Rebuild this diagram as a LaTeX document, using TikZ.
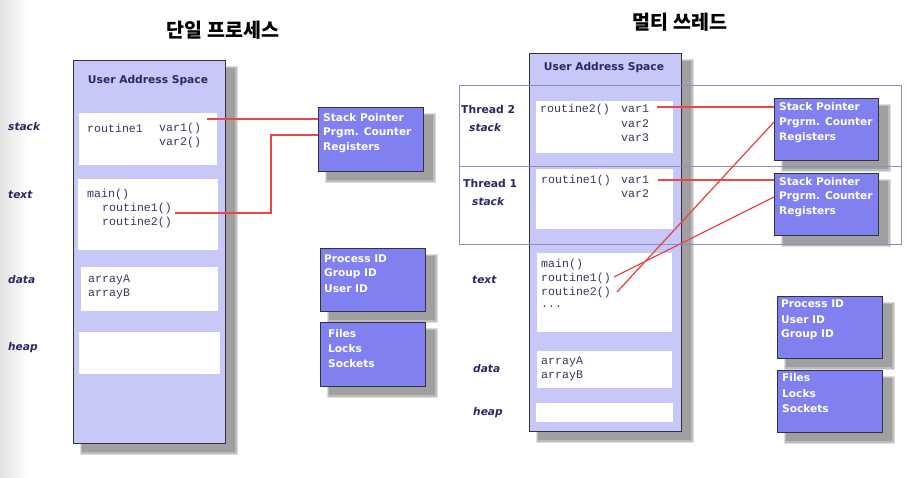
\documentclass[tikz,border=0pt]{standalone}
\usepackage{fontspec}
\setmainfont{DejaVu Sans}
\newfontfamily\krfont{Noto Sans CJK KR}
\newfontfamily\monof{Liberation Mono}
\definecolor{bigfill}{RGB}{200,200,248}
\definecolor{bluefill}{RGB}{128,128,240}
\definecolor{bordc}{RGB}{50,50,60}
\definecolor{navy}{RGB}{40,40,100}
\definecolor{monoc}{RGB}{55,55,100}
\definecolor{bandc}{RGB}{140,140,190}
\definecolor{redc}{RGB}{235,70,70}
\definecolor{shadc}{RGB}{160,160,160}
\tikzset{
  bigbox/.style={draw=bordc, fill=bigfill, line width=1pt, anchor=north west, inner sep=0pt},
  wbox/.style={fill=white, draw=none, anchor=north west, inner sep=0pt},
  bluebox/.style={draw=bordc, fill=bluefill, line width=1pt, anchor=north west, inner sep=0pt},
  head/.style={font=\bfseries\fontsize{10.7}{13}\selectfont, text=navy, inner sep=0pt},
  lbl/.style={font=\bfseries\itshape\fontsize{10.6}{13}\selectfont, text=navy, anchor=west, inner sep=0pt},
  tlbl/.style={font=\bfseries\fontsize{10.8}{13}\selectfont, text=navy, anchor=west, inner sep=0pt},
  mono/.style={font=\monof\fontsize{11.6}{14}\selectfont, text=monoc, anchor=west, inner sep=0pt},
  wt/.style={font=\bfseries\fontsize{10.6}{13}\selectfont, text=white, anchor=west, inner sep=0pt},
  title/.style={font=\krfont\bfseries\fontsize{19.5}{22}\selectfont, text=black, inner sep=0pt},
  redline/.style={draw=redc, color=redc, line width=1.3pt},
  bandline/.style={draw=bandc, line width=1pt},
}
% drop shadow of a box given x, y (top-left), width, height
\newcommand\myboxshadow[4]{%
  \fill[shadc!35] (#1+7,#2+6) rectangle (#1+#3+13,#2+#4+12);
  \fill[shadc!70] (#1+8,#2+7) rectangle (#1+#3+11.5,#2+#4+10.5);
  \fill[shadc] (#1+9,#2+8) rectangle (#1+#3+10,#2+#4+9);}
\begin{document}
\begin{tikzpicture}[x=1pt,y=-1pt]
\path[use as bounding box, fill=white] (0,0) rectangle (907,477);
\shade[left color=black!11, right color=white] (0,0) rectangle (28,477);

% ---------- shadows and big boxes ----------
\myboxshadow{73}{60}{152}{383}
\myboxshadow{529}{53}{152}{378}
\node[bigbox, minimum width=152, minimum height=383] (L) at (73,60) {};
\node[bigbox, minimum width=152, minimum height=378] (R) at (529,53) {};

\myboxshadow{318}{107}{105}{64}
\myboxshadow{320}{248}{105}{63}
\myboxshadow{320}{322}{105}{64}
\myboxshadow{774}{98}{104}{62}
\myboxshadow{774}{173}{104}{62}
\myboxshadow{777}{296}{105}{62}
\myboxshadow{777}{370}{105}{62}

% ---------- thread bands ----------
\draw[bandline] (459,85) rectangle (901,244);
\draw[bandline] (459,166) -- (901,166);

% ================= LEFT: single process =================
\node[title] (t1) at (223,30) {단일 프로세스};
\node[head] (Lh) at (148,81) {User Address Space};

\node[wbox, minimum width=138, minimum height=52] (Lstack) at (79,113) {};
\node[wbox, minimum width=140, minimum height=71] (Ltext) at (78,179) {};
\node[wbox, minimum width=137, minimum height=44] (Ldata) at (81,267) {};
\node[wbox, minimum width=141, minimum height=42] (Lheap) at (79,332) {};

\node[lbl] (lstk) at (8,127) {stack};
\node[lbl] (ltxt) at (8,195) {text};
\node[lbl] (ldat) at (8,280) {data};
\node[lbl] (lhp) at (8,348) {heap};

\node[mono] (lr1) at (87,128) {routine1};
\node[mono] (lv1) at (159,128) {var1()};
\node[mono] (lv2) at (159,142) {var2()};
\node[mono] (lmain) at (87,194) {main()};
\node[mono] (lrt1) at (102,208) {routine1()};
\node[mono] (lrt2) at (102,222) {routine2()};
\node[mono] (lara) at (88,280) {arrayA};
\node[mono] (larb) at (88,294) {arrayB};

\node[bluebox, minimum width=105, minimum height=64] (Lsp) at (318,107) {};
\node[wt] (lsp1) at (323,118) {Stack Pointer};
\node[wt] (lsp2) at (323,133) {Prgm. Counter};
\node[wt] (lsp3) at (323,148) {Registers};

\node[bluebox, minimum width=105, minimum height=63] (Lpid) at (320,248) {};
\node[wt] (lp1) at (324,259) {Process ID};
\node[wt] (lp2) at (324,274) {Group ID};
\node[wt] (lp3) at (324,289) {User ID};

\node[bluebox, minimum width=105, minimum height=64] (Lfil) at (320,322) {};
\node[wt] (lf1) at (328,334) {Files};
\node[wt] (lf2) at (328,349) {Locks};
\node[wt] (lf3) at (328,364) {Sockets};

\coordinate (la1) at (207,119);
\coordinate (la2) at (175,213);
\coordinate (lb2) at (271,135);
\draw[redline] (la1) -- (la1 -| Lsp.west);
\draw[redline] (la2) -| (lb2) -- (lb2 -| Lsp.west);

% ================= RIGHT: multi thread =================
\node[title] (t2) at (680,22) {멀티 쓰레드};
\node[head] (Rh) at (604,68) {User Address Space};

\node[wbox, minimum width=137, minimum height=52] (R2stack) at (536,101) {};
\node[wbox, minimum width=137, minimum height=60] (R1stack) at (536,169) {};
\node[wbox, minimum width=135, minimum height=79] (Rtext) at (537,253) {};
\node[wbox, minimum width=135, minimum height=37] (Rdata) at (537,351) {};
\node[wbox, minimum width=137, minimum height=19] (Rheap) at (536,403) {};

\node[tlbl] (th2) at (461,109) {Thread 2};
\node[lbl] (rs2) at (469,128) {stack};
\node[tlbl] (th1) at (463,183) {Thread 1};
\node[lbl] (rs1) at (472,202) {stack};
\node[lbl] (rtx) at (472,280) {text};
\node[lbl] (rdt) at (473,369) {data};
\node[lbl] (rhp) at (473,413) {heap};

\node[mono] (rr2) at (540,109) {routine2()};
\node[mono] (r2v1) at (621,109) {var1};
\node[mono] (r2v2) at (621,124) {var2};
\node[mono] (r2v3) at (621,138) {var3};
\node[mono] (rr1) at (541,180) {routine1()};
\node[mono] (r1v1) at (621,180) {var1};
\node[mono] (r1v2) at (621,194) {var2};
\node[mono] (rmain) at (541,264) {main()};
\node[mono] (rrt1) at (541,278) {routine1()};
\node[mono] (rrt2) at (541,292) {routine2()};
\node[mono] (rdots) at (541,307) {...};
\node[mono] (rara) at (541,362) {arrayA};
\node[mono] (rarb) at (541,376) {arrayB};

\node[bluebox, minimum width=104, minimum height=62] (Rsp2) at (774,98) {};
\node[wt] (r2s1) at (779,107) {Stack Pointer};
\node[wt] (r2s2) at (779,123) {Prgrm. Counter};
\node[wt] (r2s3) at (779,138) {Registers};

\node[bluebox, minimum width=104, minimum height=62] (Rsp1) at (774,173) {};
\node[wt] (r1s1) at (779,182) {Stack Pointer};
\node[wt] (r1s2) at (779,197) {Prgrm. Counter};
\node[wt] (r1s3) at (779,212) {Registers};

\node[bluebox, minimum width=105, minimum height=62] (Rpid) at (777,296) {};
\node[wt] (rp1) at (781,304) {Process ID};
\node[wt] (rp2) at (781,320) {User ID};
\node[wt] (rp3) at (781,335) {Group ID};

\node[bluebox, minimum width=105, minimum height=62] (Rfil) at (777,370) {};
\node[wt] (rf1) at (782,378) {Files};
\node[wt] (rf2) at (782,394) {Locks};
\node[wt] (rf3) at (782,409) {Sockets};

\coordinate (ra1) at (657,107);
\coordinate (ra2) at (658,180);
\coordinate (ra3) at (614,277);
\coordinate (ra4) at (617,292);
\coordinate (rb3) at (774,197);
\coordinate (rb4) at (774,122);
\draw[redline] (ra1) -- (ra1 -| Rsp2.west);
\draw[redline] (ra2) -- (ra2 -| Rsp1.west);
\draw[redline] (ra3) -- (rb3);
\draw[redline] (ra4) -- (rb4);
\end{tikzpicture}
\end{document}
